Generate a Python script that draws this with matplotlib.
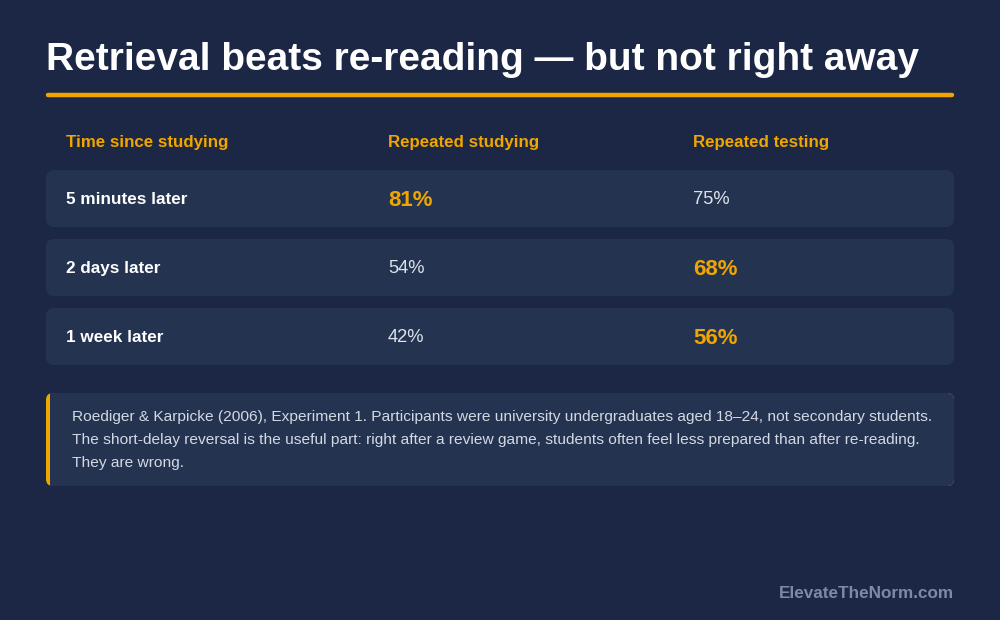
import matplotlib.pyplot as plt
from matplotlib.patches import FancyBboxPatch, Rectangle

# ---------------------------------------------------------------------------
# Retrieval practice vs re-reading: recall by delay (Roediger & Karpicke 2006)
# ---------------------------------------------------------------------------

title = 'Retrieval beats re-reading \u2014 but not right away'
headers = ['Time since studying', 'Repeated studying', 'Repeated testing']
delays = ['5 minutes later', '2 days later', '1 week later']
studying = [81, 54, 42]
testing = [75, 68, 56]
note_lines = [
    'Roediger & Karpicke (2006), Experiment 1. Participants were university '
    'undergraduates aged 18\u201324, not secondary students.',
    'The short-delay reversal is the useful part: right after a review game, '
    'students often feel less prepared than after re-reading.',
    'They are wrong.',
]
footer = 'ElevateTheNorm.com'

BG = '#1b2744'
ROW_BG = '#243350'
ACCENT = '#f0a500'
WHITE = '#ffffff'
VALUE = '#dde2ea'
NOTE_TXT = '#d3d9e3'
FOOT = '#7d8aa6'

plt.rcParams['font.family'] = ['Liberation Sans', 'DejaVu Sans']

fig = plt.figure(figsize=(10, 6.2), dpi=100, facecolor=BG)
ax = fig.add_axes([0, 0, 1, 1])
ax.set_xlim(0, 1000)
ax.set_ylim(620, 0)
ax.axis('off')
ax.set_facecolor(BG)

left, right = 46, 954
col_x = [66, 388, 693]

## --- title and rule --- ##
ax.text(left, 70, title, color=WHITE, fontsize=28, fontweight='bold',
        va='baseline', ha='left')
ax.plot([left + 2, right - 2], [95, 95], color=ACCENT, lw=3.2,
        solid_capstyle='round')

## --- header row --- ##
for x, h in zip(col_x, headers):
    ax.text(x, 147, h, color=ACCENT, fontsize=12.2, fontweight='bold',
            va='baseline', ha='left')

## --- data rows --- ##
row_top, row_h, row_gap = 170, 57, 12
for i, (d, s, t) in enumerate(zip(delays, studying, testing)):
    y0 = row_top + i * (row_h + row_gap)
    yb = y0 + 34
    ax.add_patch(FancyBboxPatch((left, y0), right - left, row_h,
                                boxstyle='round,pad=0,rounding_size=8',
                                fc=ROW_BG, ec='none'))
    ax.text(col_x[0], yb, d, color=WHITE, fontsize=12.3, fontweight='bold',
            va='baseline', ha='left')
    best = max(s, t)
    for x, v in zip(col_x[1:], (s, t)):
        if v == best:
            ax.text(x, yb + 2, f'{v}%', color=ACCENT, fontsize=16,
                    fontweight='bold', va='baseline', ha='left')
        else:
            ax.text(x, yb, f'{v}%', color=VALUE, fontsize=13.2,
                    va='baseline', ha='left')

## --- note box --- ##
n_top, n_h = 393, 93
ax.add_patch(FancyBboxPatch((left, n_top), right - left, n_h,
                            boxstyle='round,pad=0,rounding_size=7',
                            fc=ACCENT, ec='none'))
ax.add_patch(FancyBboxPatch((left + 4, n_top), right - left - 4, n_h,
                            boxstyle='round,pad=0,rounding_size=7',
                            fc=ROW_BG, ec='none'))
ax.add_patch(Rectangle((left + 4, n_top), 10, n_h, fc=ROW_BG, ec='none'))
for j, line in enumerate(note_lines):
    ax.text(72, 421 + j * 23, line, color=NOTE_TXT, fontsize=11.15,
            va='baseline', ha='left')

## --- footer --- ##
ax.text(right, 598, footer, color=FOOT, fontsize=12.3, fontweight='bold',
        va='baseline', ha='right')

fig.savefig('out.png', dpi=100, facecolor=BG)
